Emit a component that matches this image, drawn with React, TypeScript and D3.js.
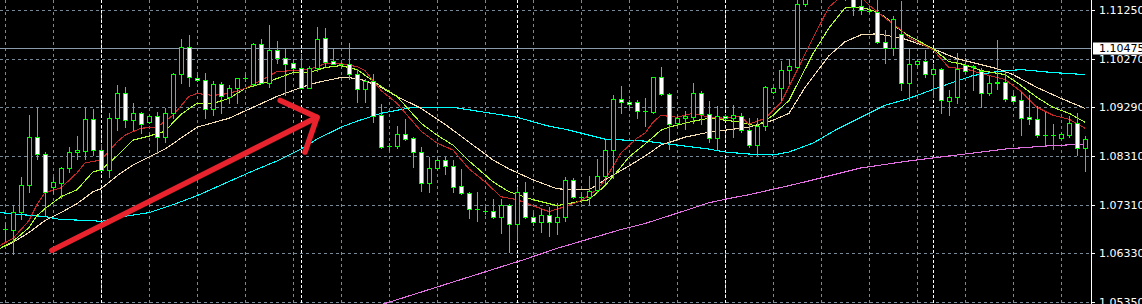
import React from 'react';
import * as d3 from 'd3';

const W = 1142;
const H = 304;
const AXIS_X = 1091;

// OHLC per bar (bar index 0..135)
const opens = [
  1.0683, 1.0681, 1.0719, 1.0773, 1.0869, 1.0835, 1.0769, 1.0777, 1.0807, 1.0839,
  1.0841, 1.0905, 1.0843, 1.0803, 1.0907, 1.0957, 1.0903, 1.0917, 1.0899, 1.0911,
  1.0869, 1.0917, 1.0997, 1.1051, 1.0989, 1.0985, 1.0925, 1.0975, 1.0949, 1.0967,
  1.0989, 1.0975, 1.1057, 1.0977, 1.1045, 1.1029, 1.1019, 1.1009, 1.0967, 1.1009,
  1.1069, 1.1023, 1.1017, 1.1017, 1.0997, 1.0965, 1.0983, 1.0913, 1.0851, 1.0851,
  1.0875, 1.0867, 1.0839, 1.0777, 1.0807, 1.0823, 1.0811, 1.0771, 1.0757, 1.0725,
  1.0721, 1.0721, 1.0709, 1.0733, 1.0695, 1.0759, 1.0709, 1.0699, 1.0713, 1.0699,
  1.0709, 1.0783, 1.0749, 1.0749, 1.0763, 1.0791, 1.0843, 1.0945, 1.0939, 1.0939,
  1.0921, 1.0919, 1.0991, 1.0955, 1.0897, 1.0907, 1.0909, 1.0957, 1.0915, 1.0867,
  1.0911, 1.0907, 1.0911, 1.0883, 1.0853, 1.0891, 1.0959, 1.0967, 1.1005, 1.1011,
  1.1137, 1.1155, 1.1171, 1.1159, 1.1167, 1.1155, 1.1149, 1.1133, 1.1123, 1.1121,
  1.1061, 1.1049, 1.1077, 1.0979, 1.1017, 1.1023, 1.0997, 1.1007, 1.0941, 1.0949,
  1.1015, 1.1013, 1.1003, 1.0957, 1.0981, 1.0981, 1.0951, 1.0943, 1.0909, 1.0905,
  1.0873, 1.0873, 1.0867, 1.0873, 1.0897, 1.0847,
];
const highs = [
  1.0697, 1.0733, 1.0789, 1.0913, 1.0927, 1.0839, 1.0789, 1.0809, 1.0849, 1.0871,
  1.0927, 1.0925, 1.0853, 1.0917, 1.0973, 1.0969, 1.0937, 1.0919, 1.0913, 1.0919,
  1.0927, 1.0999, 1.1067, 1.1075, 1.0995, 1.0999, 1.0983, 1.0981, 1.0973, 1.0989,
  1.0997, 1.1059, 1.1067, 1.1095, 1.1063, 1.1049, 1.1027, 1.1037, 1.1013, 1.1091,
  1.1089, 1.1047, 1.1021, 1.1059, 1.1007, 1.0987, 1.0997, 1.0935, 1.0857, 1.0891,
  1.0905, 1.0869, 1.0849, 1.0829, 1.0827, 1.0829, 1.0823, 1.0805, 1.0759, 1.0759,
  1.0729, 1.0745, 1.0745, 1.0735, 1.0769, 1.0779, 1.0717, 1.0725, 1.0729, 1.0737,
  1.0789, 1.0787, 1.0755, 1.0791, 1.0825, 1.0863, 1.0953, 1.0971, 1.0943, 1.0943,
  1.0947, 1.0991, 1.1011, 1.0957, 1.0913, 1.0921, 1.0977, 1.0961, 1.0941, 1.0931,
  1.0913, 1.0933, 1.0917, 1.0907, 1.0907, 1.0971, 1.0969, 1.1023, 1.1027, 1.1147,
  1.1167, 1.1183, 1.1187, 1.1179, 1.1191, 1.1171, 1.1163, 1.1147, 1.1129, 1.1149,
  1.1085, 1.1113, 1.1143, 1.1047, 1.1027, 1.1045, 1.1017, 1.1009, 1.0963, 1.1039,
  1.1029, 1.1015, 1.1009, 1.0993, 1.1065, 1.1003, 1.0957, 1.0959, 1.0953, 1.0931,
  1.0919, 1.0895, 1.0877, 1.0911, 1.0917, 1.0871,
];
const lows = [
  1.0663, 1.0633, 1.0705, 1.0759, 1.0825, 1.0713, 1.0757, 1.0747, 1.0799, 1.0825,
  1.0825, 1.0833, 1.0803, 1.0789, 1.0883, 1.0889, 1.0883, 1.0877, 1.0897, 1.0837,
  1.0859, 1.0907, 1.0977, 1.0971, 1.0983, 1.0907, 1.0913, 1.0917, 1.0937, 1.0937,
  1.0983, 1.0973, 1.0977, 1.0969, 1.1019, 1.0953, 1.1003, 1.0967, 1.0967, 1.1003,
  1.1013, 1.1017, 1.1013, 1.0987, 1.0939, 1.0939, 1.0899, 1.0847, 1.0843, 1.0847,
  1.0863, 1.0809, 1.0761, 1.0759, 1.0805, 1.0795, 1.0759, 1.0755, 1.0707, 1.0701,
  1.0715, 1.0707, 1.0675, 1.0637, 1.0661, 1.0707, 1.0693, 1.0677, 1.0669, 1.0673,
  1.0701, 1.0747, 1.0739, 1.0733, 1.0759, 1.0777, 1.0787, 1.0917, 1.0929, 1.0907,
  1.0891, 1.0917, 1.0953, 1.0845, 1.0895, 1.0885, 1.0897, 1.0895, 1.0859, 1.0845,
  1.0905, 1.0869, 1.0879, 1.0849, 1.0833, 1.0883, 1.0957, 1.0943, 1.0977, 1.1009,
  1.1133, 1.1147, 1.1151, 1.1147, 1.1151, 1.1145, 1.1115, 1.1117, 1.1119, 1.1059,
  1.1019, 1.1035, 1.0963, 1.0943, 1.1013, 1.0991, 1.0949, 1.0917, 1.0913, 1.0937,
  1.0999, 1.0963, 1.0929, 1.0953, 1.0965, 1.0941, 1.0939, 1.0873, 1.0895, 1.0869,
  1.0855, 1.0845, 1.0867, 1.0869, 1.0833, 1.0801,
];
const closes = [
  1.0685, 1.0719, 1.0773, 1.0869, 1.0835, 1.0759, 1.0779, 1.0807, 1.0839, 1.0843,
  1.0905, 1.0843, 1.0803, 1.0907, 1.0957, 1.0903, 1.0917, 1.0895, 1.0911, 1.0869,
  1.0917, 1.0997, 1.1051, 1.0991, 1.0985, 1.0925, 1.0975, 1.0951, 1.0967, 1.0989,
  1.0989, 1.1057, 1.0977, 1.1045, 1.1029, 1.1017, 1.1009, 1.0967, 1.1009, 1.1067,
  1.1021, 1.1017, 1.1017, 1.0997, 1.0965, 1.0983, 1.0911, 1.0849, 1.0851, 1.0875,
  1.0865, 1.0839, 1.0777, 1.0807, 1.0823, 1.0811, 1.0769, 1.0757, 1.0725, 1.0725,
  1.0721, 1.0709, 1.0733, 1.0695, 1.0759, 1.0709, 1.0699, 1.0713, 1.0699, 1.0709,
  1.0783, 1.0749, 1.0749, 1.0761, 1.0791, 1.0843, 1.0945, 1.0939, 1.0935, 1.0921,
  1.0921, 1.0991, 1.0955, 1.0895, 1.0907, 1.0911, 1.0957, 1.0915, 1.0867, 1.0911,
  1.0907, 1.0913, 1.0883, 1.0853, 1.0891, 1.0969, 1.0967, 1.1005, 1.1013, 1.1137,
  1.1155, 1.1171, 1.1159, 1.1167, 1.1155, 1.1149, 1.1131, 1.1125, 1.1123, 1.1061,
  1.1049, 1.1107, 1.0977, 1.1017, 1.1023, 1.0997, 1.1007, 1.0943, 1.0949, 1.1007,
  1.1003, 1.1011, 1.0957, 1.0977, 1.0977, 1.0945, 1.0941, 1.0907, 1.0905, 1.0873,
  1.0873, 1.0873, 1.0875, 1.0897, 1.0847, 1.0865,
];

// Moving averages at the given bar positions
const maRedBars = [-0.6, 1, 3, 4, 5, 7, 9, 10, 12, 14, 15, 17, 19, 21, 23, 24, 26, 28, 30, 32, 34, 36, 38, 40, 42, 44, 45, 47, 49, 52, 54, 56, 58, 60, 62, 64, 66, 68, 70, 72, 74, 75, 77, 79, 80, 81, 82, 84, 86, 88, 90, 92, 93, 95, 97, 99, 101, 103, 105, 106, 107, 108, 110, 112, 113, 116, 118, 120, 122, 125, 127, 129, 131, 133, 135];
const maRedValues = [1.0651, 1.0665, 1.0701, 1.0733, 1.0757, 1.0767, 1.0797, 1.0817, 1.0823, 1.0859, 1.0873, 1.0887, 1.0889, 1.0913, 1.0951, 1.0957, 1.0953, 1.0957, 1.0967, 1.0983, 1.1001, 1.1003, 1.1005, 1.1017, 1.1017, 1.1011, 1.1003, 1.0963, 1.0937, 1.0881, 1.0857, 1.0843, 1.0805, 1.0779, 1.0749, 1.0743, 1.0731, 1.0719, 1.0729, 1.0741, 1.0763, 1.0783, 1.0837, 1.0867, 1.0877, 1.0899, 1.0913, 1.0909, 1.0917, 1.0909, 1.0907, 1.0911, 1.0895, 1.0907, 1.0939, 1.1003, 1.1069, 1.1131, 1.1159, 1.1161, 1.1151, 1.1135, 1.1109, 1.1085, 1.1069, 1.1045, 1.1009, 1.1007, 1.0997, 1.0985, 1.0961, 1.0929, 1.0913, 1.0905, 1.0887];

const maLimeBars = [-0.6, 1, 3, 4, 5, 7, 9, 11, 12, 14, 16, 18, 20, 22, 24, 26, 28, 30, 33, 36, 38, 40, 42, 44, 47, 49, 52, 54, 56, 58, 61, 63, 66, 69, 71, 73, 75, 77, 78, 80, 82, 83, 86, 88, 90, 92, 94, 96, 98, 101, 103, 105, 107, 109, 110, 112, 113, 116, 118, 120, 122, 125, 127, 129, 131, 133, 135];
const maLimeValues = [1.0645, 1.0659, 1.0687, 1.0711, 1.0725, 1.0749, 1.0763, 1.0799, 1.0803, 1.0831, 1.0863, 1.0871, 1.0881, 1.0915, 1.0937, 1.0937, 1.0947, 1.0967, 1.0981, 1.0999, 1.0999, 1.1009, 1.1013, 1.1005, 1.0971, 1.0951, 1.0897, 1.0873, 1.0853, 1.0821, 1.0779, 1.0759, 1.0743, 1.0731, 1.0737, 1.0743, 1.0771, 1.0809, 1.0829, 1.0855, 1.0883, 1.0889, 1.0901, 1.0907, 1.0903, 1.0899, 1.0891, 1.0913, 1.0943, 1.1037, 1.1089, 1.1129, 1.1131, 1.1121, 1.1111, 1.1083, 1.1073, 1.1047, 1.1021, 1.1015, 1.1003, 1.0995, 1.0973, 1.0949, 1.0929, 1.0917, 1.0899];

const maWheatBars = [-0.6, 1, 3, 4, 5, 7, 9, 11, 12, 14, 16, 18, 20, 22, 24, 28, 31, 34, 37, 39, 42, 43, 45, 47, 49, 52, 55, 58, 61, 63, 66, 69, 71, 73, 75, 78, 80, 82, 85, 88, 91, 93, 96, 98, 100, 103, 105, 107, 109, 112, 116, 119, 121, 124, 126, 129, 132, 135];
const maWheatValues = [1.0645, 1.0657, 1.0677, 1.0689, 1.0701, 1.0717, 1.0735, 1.0759, 1.0765, 1.0791, 1.0813, 1.0829, 1.0845, 1.0867, 1.0889, 1.0907, 1.0929, 1.0951, 1.0969, 1.0979, 1.0989, 1.0989, 1.0983, 1.0969, 1.0951, 1.0927, 1.0895, 1.0859, 1.0823, 1.0805, 1.0783, 1.0765, 1.0763, 1.0763, 1.0783, 1.0811, 1.0831, 1.0853, 1.0869, 1.0879, 1.0885, 1.0889, 1.0903, 1.0917, 1.0969, 1.1033, 1.1061, 1.1075, 1.1077, 1.1069, 1.1047, 1.1027, 1.1019, 1.1007, 1.0995, 1.0969, 1.0947, 1.0927];

const maCyanBars = [-0.6, 2, 5, 7, 11, 12, 14, 18, 21, 24, 31, 34, 37, 39, 42, 44, 47, 51, 56, 60, 64, 68, 70, 73, 75, 80, 85, 88, 90, 93, 96, 98, 101, 104, 107, 110, 113, 117, 121, 124, 127, 131, 135];
const maCyanValues = [1.0717, 1.0713, 1.0709, 1.0703, 1.0701, 1.0699, 1.0707, 1.0717, 1.0733, 1.0751, 1.0801, 1.0821, 1.0845, 1.0865, 1.0889, 1.0901, 1.0917, 1.0929, 1.0929, 1.0919, 1.0909, 1.0891, 1.0885, 1.0873, 1.0865, 1.0861, 1.0851, 1.0845, 1.0839, 1.0835, 1.0833, 1.0839, 1.0857, 1.0885, 1.0909, 1.0933, 1.0947, 1.0971, 1.0993, 1.1001, 1.1005, 1.0999, 1.0995];

const maVioletBars = [46, 47.3, 65, 69, 77, 80, 85, 88, 91, 93, 99, 107, 113, 119, 125, 130, 135];
const maVioletValues = [1.0527, 1.0533, 1.0623, 1.0645, 1.0683, 1.0695, 1.0721, 1.0737, 1.0747, 1.0753, 1.0775, 1.0807, 1.0821, 1.0833, 1.0845, 1.0851, 1.0855];

// Axis
const priceTicks = [1.1125, 1.1027, 1.0929, 1.0831, 1.0733, 1.0635, 1.0537];
const priceTickLabels = ['1.11250', '1.10270', '1.09290', '1.08310', '1.07310', '1.06330', '1.05350'];
const currentPrice = 1.10475;
const currentPriceLabel = '1.10475';
const separatorBars = [12, 37, 64, 90, 116];
const gridBars = d3.range(0, 136, 6);

// Hand-drawn arrow (bar, price)
const arrowShaftBars = [5.85, 39];
const arrowShaftPrices = [1.0641, 1.0909];
const arrowHeadBars = [34.4, 39, 37.5];
const arrowHeadPrices = [1.0943, 1.0909, 1.0839];

const GRID = '#778899';
const CANDLE = '#00ff00';

export default function App() {
  const x = d3.scaleLinear().domain([0, 135]).range([5, 1085]);
  const y = d3.scaleLinear().domain([1.1125, 1.0537]).range([10, 302]);

  const line = d3
    .line<[number, number]>()
    .x((d) => x(d[0]))
    .y((d) => y(d[1]));

  const zip = (a: number[], b: number[]) => a.map((v, i) => [v, b[i]] as [number, number]);

  const mas = [
    { bars: maVioletBars, vals: maVioletValues, color: '#e070e0' },
    { bars: maCyanBars, vals: maCyanValues, color: '#00ffff' },
    { bars: maWheatBars, vals: maWheatValues, color: '#f5deb3' },
    { bars: maLimeBars, vals: maLimeValues, color: '#adff2f' },
    { bars: maRedBars, vals: maRedValues, color: '#c02828' },
  ];

  const cpY = Math.round(y(currentPrice)) + 0.5;

  return (
    <svg
      width={W}
      height={H}
      style={{ position: 'absolute', left: 0, top: 0, display: 'block', background: '#000' }}
    >
      <defs>
        <clipPath id="plot">
          <rect x={0} y={0} width={AXIS_X} height={H} />
        </clipPath>
      </defs>
      <rect x={0} y={0} width={W} height={H} fill="#000" />
      <g clipPath="url(#plot)">
        {priceTicks.map((t, i) => {
          const yy = Math.round(y(t)) + 0.5;
          return (
            <line key={'hg' + i} x1={0} x2={AXIS_X} y1={yy} y2={yy} stroke={GRID} strokeDasharray="3,3" />
          );
        })}
        {gridBars.map((b) => {
          const xx = Math.round(x(b)) + 0.5;
          return <line key={'vg' + b} x1={xx} x2={xx} y1={0} y2={H} stroke={GRID} strokeDasharray="3,3" />;
        })}
        {separatorBars.map((b) => {
          const xx = Math.round(x(b)) + 0.5;
          return <line key={'sep' + b} x1={xx} x2={xx} y1={0} y2={H} stroke="#ffffff" strokeDasharray="3,2" />;
        })}
        <line x1={0} x2={AXIS_X} y1={cpY} y2={cpY} stroke="#8a9bab" />
        {mas.map((m, i) => (
          <path
            key={'ma' + i}
            d={line(zip(m.bars, m.vals)) || ''}
            fill="none"
            stroke={m.color}
            strokeWidth={1.1}
            shapeRendering="crispEdges"
          />
        ))}
        {opens.map((o, i) => {
          const c = closes[i];
          const cx = Math.round(x(i));
          const yo = Math.round(y(o));
          const yc = Math.round(y(c));
          const yh = Math.round(y(highs[i]));
          const yl = Math.round(y(lows[i]));
          const top = Math.min(yo, yc);
          const bot = Math.max(yo, yc);
          const bull = c >= o;
          return (
            <g key={'c' + i} shapeRendering="crispEdges">
              <line x1={cx + 0.5} x2={cx + 0.5} y1={yh} y2={yl + 1} stroke={CANDLE} />
              {bot - top < 1 ? (
                <line x1={cx - 2} x2={cx + 3} y1={top + 0.5} y2={top + 0.5} stroke={CANDLE} />
              ) : (
                <rect
                  x={cx - 1.5}
                  y={top + 0.5}
                  width={4}
                  height={bot - top}
                  fill={bull ? '#000' : '#fff'}
                  stroke={CANDLE}
                />
              )}
            </g>
          );
        })}
        <path
          d={line(zip(arrowShaftBars, arrowShaftPrices)) || ''}
          fill="none"
          stroke="#e8232d"
          strokeWidth={5.5}
          strokeLinecap="round"
        />
        <path
          d={line(zip(arrowHeadBars, arrowHeadPrices)) || ''}
          fill="none"
          stroke="#e8232d"
          strokeWidth={5.5}
          strokeLinecap="round"
          strokeLinejoin="round"
        />
      </g>
      <line x1={AXIS_X + 0.5} x2={AXIS_X + 0.5} y1={0} y2={H} stroke="#ffffff" />
      {priceTicks.map((t, i) => {
        const yy = Math.round(y(t)) + 0.5;
        return (
          <g key={'tk' + i}>
            <line x1={AXIS_X} x2={AXIS_X + 4} y1={yy} y2={yy} stroke="#ffffff" />
            <text
              x={1099}
              y={yy}
              dominantBaseline="central"
              fill="#ffffff"
              fontFamily="DejaVu Sans"
              fontSize={11}
            >
              {priceTickLabels[i]}
            </text>
          </g>
        );
      })}
      <rect x={1093} y={cpY - 6} width={W - 1093} height={12} fill="#ffffff" />
      <text x={1099} y={cpY} dominantBaseline="central" fill="#000000" fontFamily="DejaVu Sans" fontSize={11}>
        {currentPriceLabel}
      </text>
    </svg>
  );
}
